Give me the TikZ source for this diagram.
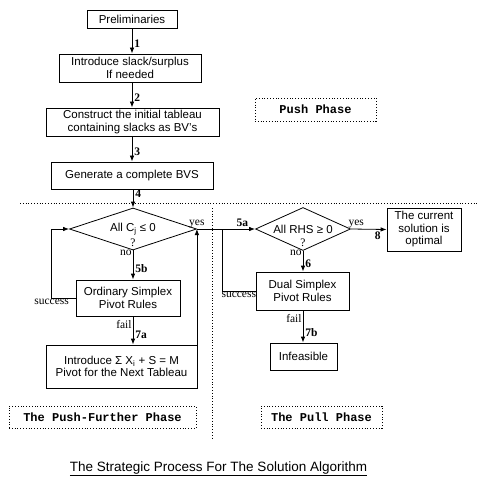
\documentclass[tikz,border=0pt]{standalone}
\usepackage{fontspec}
\setmainfont{Liberation Sans}
\newfontfamily\serifnum{Liberation Serif}
\newfontfamily\monophase{Liberation Mono}
\usetikzlibrary{shapes.geometric,arrows.meta}
\tikzset{
  box/.style={draw, line width=.8pt, align=center, inner sep=1pt, font=\fontsize{11.5}{12.5}\selectfont},
  decision/.style={draw, diamond, aspect=3, inner sep=0pt, line width=.8pt, font=\fontsize{11.5}{12.5}\selectfont},
  num/.style={font=\serifnum\bfseries\fontsize{11.5}{12}\selectfont, inner sep=2pt},
  ans/.style={font=\serifnum\fontsize{11.5}{12}\selectfont, inner sep=1pt},
  phase/.style={draw, dotted, line width=.8pt, font=\monophase\bfseries\fontsize{12}{12}\selectfont},
  conn/.style={line width=.8pt},
}
\begin{document}
\begin{tikzpicture}[x=1pt, y=-1pt, >={Latex[length=6pt,width=4.5pt]}]
\useasboundingbox (0,0) rectangle (481,489);
% push phase
\node[box, minimum width=90, minimum height=18] (prelim) at (132,19) {Preliminaries};
\node[box, minimum width=142, minimum height=28] (intro) at (130,68) {Introduce slack/surplus\\If needed};
\node[box, minimum width=173, minimum height=28] (tableau) at (132.5,122) {Construct the initial tableau\\containing slacks as BV's};
\node[box, minimum width=162, minimum height=27] (bvs) at (132,175.5) {Generate a complete BVS};
\node[decision, minimum width=127, minimum height=42] (test1) at (133,229) {All C\textsubscript{j} ≤ 0};
\node[ans] (q1) at (133,243) {?};
\draw[conn,->] (prelim) -- node[num, right, pos=.6]{1} (prelim.south |- intro.north);
\draw[conn,->] (prelim.south |- intro.south) -- node[num, right, pos=.6]{2} (prelim.south |- tableau.north);
\draw[conn,->] (prelim.south |- tableau.south) -- node[num, right, pos=.6]{3} (prelim.south |- bvs.north);
\draw[conn,->] (bvs.south -| test1.north) -- node[num, right, pos=.25]{4} (test1.north);
% push-further phase
\node[box, minimum width=104, minimum height=36] (ordinary) at (128,298) {Ordinary Simplex\\Pivot Rules};
\node[box, minimum width=151, minimum height=43] (further) at (121.5,366.5) {Introduce Σ X\textsubscript{i} + S = M\\Pivot for the Next Tableau};
\draw[conn,->] (test1.south) -- node[ans, left, pos=.1]{no} node[num, right, pos=.63]{5b} (test1.south |- ordinary.north);
\draw[conn,->] (test1.south |- ordinary.south) -- node[ans, left, pos=.3]{fail} node[num, right, pos=.65]{7a} (test1.south |- further.north);
\draw[conn,->] (ordinary.west) -- ++(-24,0) node[ans, below]{success} |- (test1.west);
\draw[conn,->] (further.north -| test1.east) -- (test1.east);
% pull phase
\node[decision, minimum width=95, minimum height=43] (test2) at (303,229) {All RHS ≥ 0};
\node[ans] (q2) at (303,243) {?};
\node[box, minimum width=74, minimum height=43] (optimal) at (424,229.5) {The current\\solution is\\optimal};
\node[box, minimum width=93, minimum height=38] (dual) at (302.5,291) {Dual Simplex\\Pivot Rules};
\node[box, minimum width=67, minimum height=27] (infeas) at (303.5,356.5) {Infeasible};
\coordinate (merge) at (222,229);
\draw[conn,->] (test1.east) -- node[ans, above, pos=0]{yes} node[num, above, pos=.78]{5a} (test2.west);
\draw[conn,->] (test2.east) -- node[ans, above, pos=.15]{yes} node[num, below, pos=.75]{8} (optimal.west);
\draw[conn,->] (test2.south) -- node[ans, left, pos=.1]{no} node[num, right, pos=.6]{6} (test2.south |- dual.north);
\draw[conn,->] (test2.south |- dual.south) -- node[ans, left, pos=.25]{fail} node[num, right, pos=.7]{7b} (test2.south |- infeas.north);
\draw[conn] (dual.west) -- node[ans, below]{success} (dual.west -| merge) -- (merge);
% phase borders
\draw[conn, dotted] (20,203) -- (477,203);
\draw[conn, dotted] (212,208) -- (212,440);
\node[phase, minimum width=121, minimum height=23] (push) at (315.5,109.5) {Push Phase};
\node[phase, minimum width=187, minimum height=22] (pushfurther) at (102.5,417) {The Push-Further Phase};
\node[phase, minimum width=121, minimum height=22] (pull) at (321.5,417) {The Pull Phase};
\node[font=\fontsize{13.5}{14}\selectfont] (caption) at (218.5,469) {\underline{The Strategic Process For The Solution Algorithm}};
\end{tikzpicture}
\end{document}
